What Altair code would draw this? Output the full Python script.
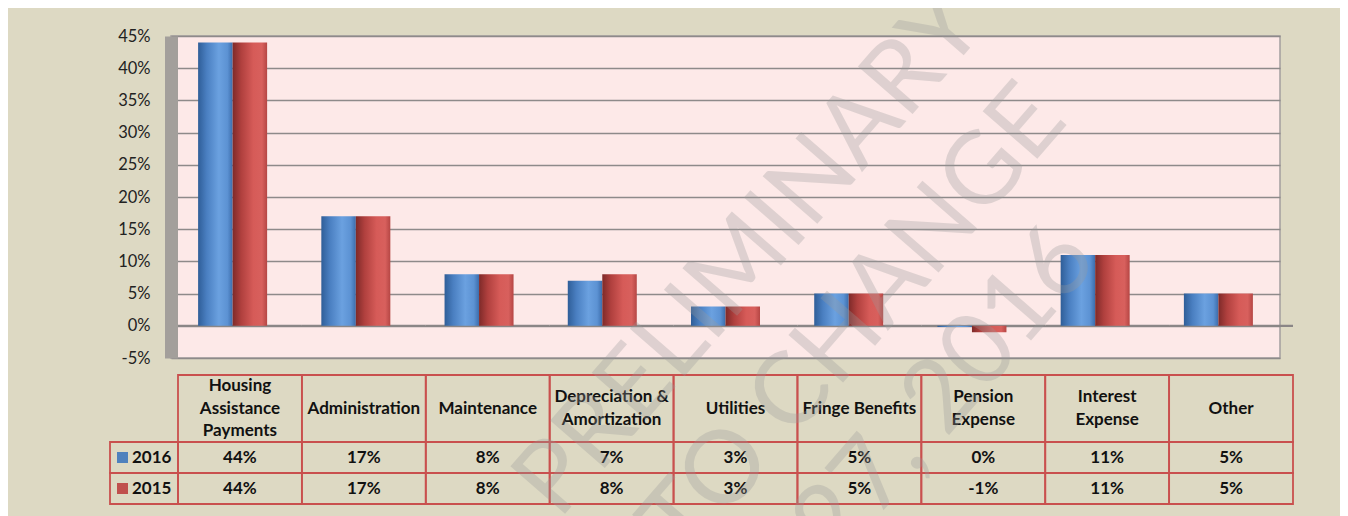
import altair as alt
import pandas as pd

# ---------------- data ----------------
categories = [
    "Housing Assistance Payments", "Administration", "Maintenance",
    "Depreciation & Amortization", "Utilities", "Fringe Benefits",
    "Pension Expense", "Interest Expense", "Other",
]
header_labels = [
    "Housing\nAssistance\nPayments", "Administration", "Maintenance",
    "Depreciation &\nAmortization", "Utilities", "Fringe Benefits",
    "Pension\nExpense", "Interest\nExpense", "Other",
]
years = ["2016", "2015"]
values_2016 = [0.44, 0.17, 0.08, 0.07, 0.03, 0.05, -0.002, 0.11, 0.05]
values_2015 = [0.44, 0.17, 0.08, 0.08, 0.03, 0.05, -0.01, 0.11, 0.05]
labels_2016 = ["44%", "17%", "8%", "7%", "3%", "5%", "0%", "11%", "5%"]
labels_2015 = ["44%", "17%", "8%", "8%", "3%", "5%", "-1%", "11%", "5%"]
y_ticks = [-0.05, 0.0, 0.05, 0.10, 0.15, 0.20, 0.25, 0.30, 0.35, 0.40, 0.45]
watermark_lines = ["PRELIMINARY", "SUBJECT TO CHANGE", "27, 2016"]

# ---------------- style / layout ----------------
W, H = 1109, 322
FONT = "Lato"
BEIGE = "#DDD9C3"
PINK = "#FDE9E8"
GRID = "#8E8A8A"
RED_LINE = "#C9504E"
BLUE = "#4F81BD"
RED = "#C0504D"
TXT = "#111111"
FS = 17

n = len(categories)
bars = pd.DataFrame({
    "category": categories * 2,
    "year": [years[0]] * n + [years[1]] * n,
    "value": values_2016 + values_2015,
})
cells = pd.DataFrame({
    "category": categories * 2,
    "year": [years[0]] * n + [years[1]] * n,
    "label": labels_2016 + labels_2015,
})
header = pd.DataFrame({"category": categories, "row": ["header"] * n})
h_rows = []
for cat, lab in zip(categories, header_labels):
    parts = lab.split("\n")
    k = len(parts)
    for i, p in enumerate(parts):
        h_rows.append({"category": cat, "line": p, "pos": i - (k - 1) / 2})
header_lines = pd.DataFrame(h_rows)
legend = pd.DataFrame({"col": ["legend"] * len(years), "year": years})
zero = pd.DataFrame({"category": categories, "zero": [0.0] * n})


def y_scale():
    return alt.Scale(domain=[y_ticks[0], y_ticks[-1]], nice=False, zero=False)


def table_x():
    return alt.X("category:N", scale=alt.Scale(domain=categories, range=[7, 1122],
                                                paddingInner=0, paddingOuter=0), axis=None)


def rows_y():
    return alt.Y("year:N", scale=alt.Scale(domain=years, range=[406, 468],
                                           paddingInner=0, paddingOuter=0), axis=None)


def legend_x(rng):
    return alt.X("col:N", scale=alt.Scale(domain=["legend"], range=rng,
                                          paddingInner=0, paddingOuter=0), axis=None)


header_y = alt.Y("row:N", scale=alt.Scale(domain=["header"], range=[339, 406],
                                          paddingInner=0, paddingOuter=0), axis=None)
header_line_y = alt.Y("pos:Q", scale=alt.Scale(domain=[-1.52, 1.52], range=[339, 406],
                                               nice=False, zero=False), axis=None)

blue_grad = alt.LinearGradient(
    gradient="linear", x1=0, x2=1, y1=0, y2=0,
    stops=[alt.GradientStop(color="#2F5E98", offset=0),
           alt.GradientStop(color="#4A7FC1", offset=0.25),
           alt.GradientStop(color="#6BA1E0", offset=0.6),
           alt.GradientStop(color="#5C92D3", offset=0.85),
           alt.GradientStop(color="#3C6DAC", offset=1)])
red_grad = alt.LinearGradient(
    gradient="linear", x1=0, x2=1, y1=0, y2=0,
    stops=[alt.GradientStop(color="#7E2A29", offset=0),
           alt.GradientStop(color="#B0403E", offset=0.25),
           alt.GradientStop(color="#D65B58", offset=0.6),
           alt.GradientStop(color="#D8605D", offset=0.85),
           alt.GradientStop(color="#B54644", offset=1)])

y_axis = alt.Axis(
    values=y_ticks, format=".0%", labelExpr="replace(datum.label, '\u2212', '-')",
    grid=True, gridColor=GRID, gridWidth=1.6,
    domain=True, domainColor="#A39F9B", domainWidth=13,
    ticks=False, tickSize=0, labelPadding=21,
    labelFont=FONT, labelFontSize=16.5, labelColor="#222222", title=None,
)


def bar_layer(year, grad, axis):
    return alt.Chart(bars).transform_filter(alt.datum.year == year).mark_bar(
        fill=grad, strokeWidth=0
    ).encode(
        x=alt.X("category:N", scale=alt.Scale(domain=categories, paddingInner=0.44,
                                              paddingOuter=0.22), axis=None),
        xOffset=alt.XOffset("year:N", scale=alt.Scale(domain=years, paddingInner=0,
                                                      paddingOuter=0)),
        y=alt.Y("value:Q", scale=y_scale(), axis=axis),
        y2=alt.datum(0),
    )


zero_layer = alt.Chart(zero).mark_rect(fill="#8A8686", stroke="#8A8686", strokeWidth=2.2).encode(
    x=table_x(),
    y=alt.Y("zero:Q", scale=y_scale(), axis=None),
    y2="zero:Q",
)

bar16 = bar_layer(years[0], blue_grad, y_axis)
bar15 = bar_layer(years[1], red_grad, None)

text_style = dict(font=FONT, fontSize=FS, fontWeight="bold", color=TXT, baseline="middle")

header_rect = alt.Chart(header).mark_rect(fill="transparent", stroke=RED_LINE, strokeWidth=1.8).encode(
    x=table_x(), y=header_y)
header_text = alt.Chart(header_lines).mark_text(**text_style).encode(
    x=table_x(), y=header_line_y, text="line:N")
cell_rect = alt.Chart(cells).mark_rect(fill="transparent", stroke=RED_LINE, strokeWidth=1.8).encode(
    x=table_x(), y=rows_y())
cell_text = alt.Chart(cells).mark_text(**text_style).encode(
    x=table_x(), y=rows_y(), text="label:N")
legend_rect = alt.Chart(legend).mark_rect(fill="transparent", stroke=RED_LINE, strokeWidth=1.8).encode(
    x=legend_x([-61, 7]), y=rows_y())
legend_sq = alt.Chart(legend).mark_square(size=121, opacity=1, filled=True).encode(
    x=legend_x([-61, -36]), y=rows_y(),
    color=alt.Color("year:N", scale=alt.Scale(domain=years, range=[BLUE, RED]), legend=None))
legend_txt = alt.Chart(legend).mark_text(align="left", **text_style).encode(
    x=legend_x([-50, -28]), y=rows_y(), text="year:N")

wm_anchor = [(794, -28), (876, 66), (906, 206)]
watermarks = []
for line, (ax, ay) in zip(watermark_lines, wm_anchor):
    watermarks.append(
        alt.Chart(pd.DataFrame({"t": [line]})).mark_text(
            angle=311, align="right", baseline="middle", font=FONT, fontSize=101,
            fontWeight="normal", color="#9A9A9A", opacity=0.3,
        ).encode(x=alt.value(ax), y=alt.value(ay), text="t:N")
    )

chart = alt.layer(
    zero_layer, bar16, bar15,
    header_rect, header_text, cell_rect, cell_text,
    legend_rect, legend_sq, legend_txt, *watermarks,
).resolve_scale(
    x="independent", y="independent", color="independent"
).properties(
    width=W, height=H,
    autosize=alt.AutoSizeParams(type="none"),
    padding={"left": 163, "top": 28, "right": 60, "bottom": 158},
    background=BEIGE,
).configure_view(fill=PINK, stroke="#A29E9E", strokeWidth=1.5)

chart.save("out.html", embed_options={"renderer": "svg", "actions": False})
